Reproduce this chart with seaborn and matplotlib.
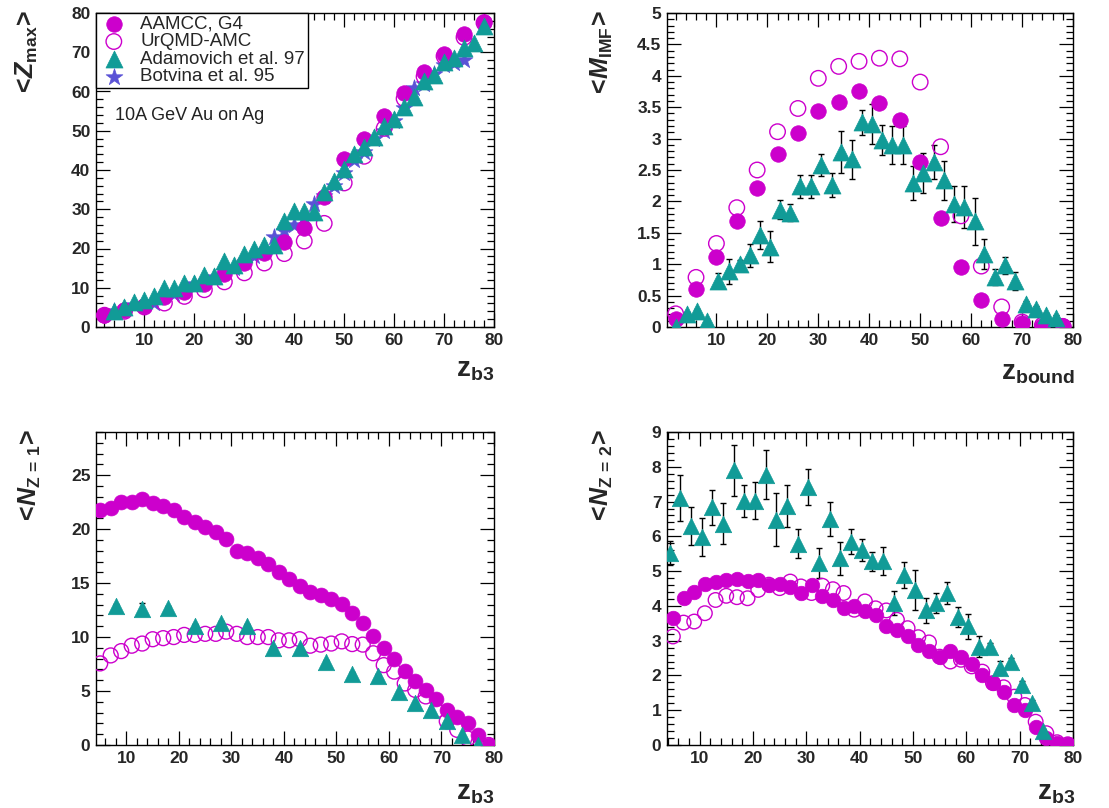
import matplotlib
matplotlib.use("Agg")
import matplotlib.pyplot as plt
import seaborn as sns
from matplotlib.ticker import MultipleLocator, FuncFormatter

# ---------------- data ----------------
# <Z_max> vs Z_b3
zmax_x_model = [2, 6, 10, 14, 18, 22, 26, 30, 34, 38, 42, 46, 50, 54, 58, 62, 66, 70, 74, 78]
zmax_aamcc = [3.1, 4.25, 5.3, 7.65, 8.9, 11.05, 13.6, 16.2, 18.9, 21.7, 25.1, 33.0, 42.7, 47.8,
              53.7, 59.7, 65.05, 69.5, 74.6, 77.8]
zmax_urqmd = [3.0, 4.0, 5.1, 6.1, 7.8, 9.5, 11.5, 13.8, 16.3, 18.7, 21.9, 26.4, 36.7, 43.5,
              50.6, 58.2, 63.8, 69.0, 73.8, 77.5]
zmax_x_adam = [4, 6, 8, 10, 12, 14, 16, 18, 20, 22, 24, 26, 28, 30, 32, 34, 36, 38, 40, 42,
               44, 46, 48, 50, 52, 54, 56, 58, 60, 62, 64, 66, 68, 70, 72, 74, 76, 78]
zmax_adam = [4.0, 5.0, 6.3, 6.8, 8.0, 10.0, 10.0, 11.2, 11.2, 13.3, 13.0, 16.8, 15.7, 18.6,
             19.8, 20.8, 21.0, 27.0, 29.6, 29.6, 29.3, 34.5, 37.2, 40.3, 44.0, 45.8, 48.3,
             51.3, 53.0, 56.0, 58.5, 62.8, 64.2, 67.5, 68.5, 71.0, 72.4, 76.8]
zmax_x_botv = [4, 8, 12, 16, 20, 24, 28, 32, 36, 38, 40, 42, 44, 46, 48, 50, 52, 54, 56, 58,
               60, 62, 64, 66, 68, 70, 72, 74]
zmax_botv = [4.0, 5.5, 6.0, 8.5, 11.0, 12.8, 15.0, 18.0, 23.0, 24.5, 26.0, 28.0, 31.3, 33.5,
             36.0, 39.3, 42.5, 44.5, 47.8, 50.0, 52.5, 55.8, 61.0, 62.0, 64.5, 66.8, 67.2, 68.0]

# <M_IMF> vs Z_bound
imf_x_model = [2, 6, 10, 14, 18, 22, 26, 30, 34, 38, 42, 46, 50, 54, 58, 62, 66, 70, 74, 78]
imf_aamcc = [0.12, 0.61, 1.12, 1.69, 2.22, 2.76, 3.09, 3.44, 3.59, 3.75, 3.57, 3.30, 2.62,
             1.73, 0.96, 0.43, 0.12, 0.06, 0.01, 0.01]
imf_urqmd = [0.21, 0.79, 1.33, 1.90, 2.50, 3.11, 3.48, 3.96, 4.15, 4.23, 4.28, 4.27, 3.90,
             2.87, 1.77, 0.97, 0.32, 0.08, 0.03, 0.01]
imf_x_adam = [2.0, 4.3, 6.2, 8.2, 10.4, 12.5, 14.6, 16.6, 18.5, 20.5, 22.5, 24.5, 26.5, 28.5,
              30.6, 32.7, 34.5, 36.7, 38.5, 40.5, 42.5, 44.5, 46.6, 48.6, 50.6, 52.7, 54.7,
              56.7, 58.7, 60.7, 62.6, 64.6, 66.6, 68.6, 70.7, 72.7, 74.7, 76.6]
imf_adam = [0.0, 0.21, 0.25, 0.10, 0.74, 0.89, 1.01, 1.14, 1.46, 1.28, 1.87, 1.82, 2.24, 2.24,
            2.58, 2.26, 2.79, 2.67, 3.26, 3.23, 2.98, 2.90, 2.90, 2.30, 2.45, 2.63, 2.34, 1.96,
            1.91, 1.68, 1.16, 0.80, 0.98, 0.73, 0.36, 0.29, 0.19, 0.15]
imf_adam_err = [0.03, 0.03, 0.03, 0.03, 0.12, 0.20, 0.05, 0.18, 0.22, 0.25, 0.15, 0.14, 0.18,
                0.18, 0.18, 0.19, 0.33, 0.31, 0.20, 0.32, 0.24, 0.30, 0.30, 0.27, 0.32, 0.27,
                0.31, 0.29, 0.33, 0.37, 0.24, 0.13, 0.13, 0.14, 0.05, 0.05, 0.04, 0.04]

# <N_Z=1> vs Z_b3
n1_x_model = [5, 7, 9, 11, 13, 15, 17, 19, 21, 23, 25, 27, 29, 31, 33, 35, 37, 39, 41, 43,
              45, 47, 49, 51, 53, 55, 57, 59, 61, 63, 65, 67, 69, 71, 73, 75, 77, 79]
n1_aamcc = [21.8, 22.0, 22.5, 22.5, 22.8, 22.4, 22.1, 21.8, 21.1, 20.7, 20.2, 19.7, 19.1,
            18.0, 17.8, 17.3, 16.8, 16.0, 15.4, 14.7, 14.2, 13.9, 13.5, 13.1, 12.2, 11.3,
            10.1, 8.95, 8.0, 6.9, 5.9, 5.1, 4.3, 3.2, 2.6, 2.0, 0.9, 0.0]
n1_urqmd = [7.56, 8.3, 8.7, 9.2, 9.4, 9.8, 9.9, 10.0, 10.2, 10.2, 10.3, 10.3, 10.5, 10.3,
            10.0, 10.0, 10.0, 9.7, 9.7, 9.8, 9.2, 9.3, 9.4, 9.6, 9.35, 9.3, 8.5, 7.4, 6.8,
            5.7, 5.1, 4.5, 3.2, 2.2, 1.4, 0.6, 0.15, 0.0]
n1_x_adam = [8, 13, 18, 23, 28, 33, 38, 43, 48, 53, 58, 62, 65, 68, 71, 74, 77]
n1_adam = [12.9, 12.6, 12.65, 11.0, 11.3, 11.0, 9.0, 9.0, 7.7, 6.6, 6.4, 4.9, 3.9, 3.2, 2.2,
           0.9, 0.0]
n1_adam_err = [0.2, 0.6, 0.2, 0.2, 0.2, 0.2, 0.2, 0.2, 0.2, 0.2, 0.2, 0.1, 0.1, 0.1, 0.1,
               0.1, 0.1]

# <N_Z=2> vs Z_b3
n2_x_model = [5, 7, 9, 11, 13, 15, 17, 19, 21, 23, 25, 27, 29, 31, 33, 35, 37, 39, 41, 43,
              45, 47, 49, 51, 53, 55, 57, 59, 61, 63, 65, 67, 69, 71, 73, 75, 77, 79]
n2_aamcc = [3.65, 4.22, 4.39, 4.64, 4.70, 4.75, 4.77, 4.73, 4.75, 4.61, 4.64, 4.54, 4.37,
            4.61, 4.27, 4.17, 3.93, 4.00, 3.84, 3.74, 3.41, 3.31, 3.14, 2.88, 2.69, 2.52,
            2.69, 2.54, 2.32, 2.02, 1.79, 1.51, 1.15, 1.01, 0.51, 0.19, 0.05, 0.03]
n2_urqmd = [3.12, 3.52, 3.55, 3.79, 4.17, 4.29, 4.25, 4.22, 4.46, 4.61, 4.51, 4.70, 4.56,
            4.37, 4.58, 4.48, 4.37, 3.89, 4.13, 3.93, 3.87, 3.60, 3.36, 3.10, 2.95, 2.54,
            2.40, 2.45, 2.26, 2.11, 1.78, 1.66, 1.39, 1.15, 0.67, 0.34, 0.08, 0.02]
n2_x_adam = [4.4, 6.4, 8.4, 10.4, 12.4, 14.4, 16.4, 18.4, 20.4, 22.4, 24.4, 26.4, 28.4, 30.4,
             32.4, 34.4, 36.4, 38.4, 40.4, 42.4, 44.4, 46.4, 48.4, 50.4, 52.4, 54.4, 56.4,
             58.4, 60.4, 62.4, 64.4, 66.4, 68.4, 70.4, 72.4, 74.4]
n2_adam = [5.52, 7.10, 6.29, 5.98, 6.84, 6.36, 7.90, 7.02, 7.02, 7.77, 6.48, 6.88, 5.79, 7.42,
           5.23, 6.50, 5.37, 5.85, 5.60, 5.28, 5.28, 4.08, 4.89, 4.46, 3.87, 4.08, 4.37, 3.69,
           3.41, 2.83, 2.83, 2.21, 2.40, 1.73, 1.20, 0.40]
n2_adam_err = [0.35, 0.65, 0.55, 0.54, 0.50, 0.59, 0.74, 0.47, 0.53, 0.71, 0.76, 0.60, 0.42,
               0.52, 0.43, 0.50, 0.47, 0.36, 0.32, 0.27, 0.40, 0.35, 0.38, 0.58, 0.35, 0.29,
               0.32, 0.29, 0.36, 0.31, 0.10, 0.20, 0.10, 0.10, 0.08, 0.05]

labels = ["AAMCC, G4", "UrQMD-AMC", "Adamovich et al. 97", "Botvina et al. 95"]

MAG = "#cc00cc"
TEAL = "#119b97"
STAR = "#5a52d6"

# ---------------- style ----------------
sns.set_theme(style="ticks")
plt.rcParams["font.family"] = ["Liberation Sans", "DejaVu Sans"]
plt.rcParams.update({
    "mathtext.fontset": "custom",
    "mathtext.rm": "Liberation Sans",
    "mathtext.bf": "Liberation Sans:bold",
    "mathtext.it": "Liberation Sans:italic",
    "mathtext.sf": "Liberation Sans",
})
try:
    plt.rcParams["mathtext.bfit"] = "Liberation Sans:italic:bold"
except KeyError:
    pass

fig = plt.figure(figsize=(11.09, 8.08), dpi=100)
fig.patch.set_facecolor("white")

W, H = 1109.0, 808.0


def axes_px(left, top, right, bottom):
    return fig.add_axes([left / W, 1 - bottom / H, (right - left) / W, (bottom - top) / H])


ax1 = axes_px(96, 13, 494, 327)
ax2 = axes_px(667, 13, 1073, 327)
ax3 = axes_px(96, 432, 494, 745)
ax4 = axes_px(667, 432, 1073, 745)


def fmt_g(v, _pos):
    return "%g" % v


def style_axes(ax, xlim, ylim, ymaj, ymin):
    ax.set_xlim(*xlim)
    ax.set_ylim(*ylim)
    ax.xaxis.set_major_locator(MultipleLocator(10))
    ax.xaxis.set_minor_locator(MultipleLocator(2))
    ax.yaxis.set_major_locator(MultipleLocator(ymaj))
    ax.yaxis.set_minor_locator(MultipleLocator(ymin))
    ax.yaxis.set_major_formatter(FuncFormatter(fmt_g))
    ax.xaxis.set_major_formatter(FuncFormatter(fmt_g))
    ax.tick_params(which="both", direction="in", top=True, right=True,
                   color="black", width=0.9)
    ax.tick_params(which="major", length=10, labelsize=12.5, pad=4)
    ax.tick_params(which="minor", length=5)
    for lab in ax.get_xticklabels() + ax.get_yticklabels():
        lab.set_fontweight("bold")
    for sp in ax.spines.values():
        sp.set_color("black")
        sp.set_linewidth(1.0)
    ax.set_facecolor("white")
    ax.set_xlabel("")
    ax.set_ylabel("")


def draw_models(ax, x, filled, hollow, s):
    sns.scatterplot(x=x, y=hollow, ax=ax, marker="o", s=s, color="none",
                    edgecolor=MAG, linewidth=1.0, label=labels[1], zorder=3)
    sns.scatterplot(x=x, y=filled, ax=ax, marker="o", s=s, color=MAG,
                    edgecolor=MAG, linewidth=0.5, label=labels[0], zorder=4)


def draw_data(ax, x, y, err=None, s=130):
    if err is not None:
        ax.errorbar(x, y, yerr=err, fmt="none", ecolor="black", elinewidth=1.0,
                    capsize=2.5, capthick=1.0, zorder=2)
    sns.scatterplot(x=x, y=y, ax=ax, marker="^", s=s, color=TEAL,
                    edgecolor=TEAL, linewidth=0.5, label=labels[2], zorder=5)


# ---- panel 1: <Z_max>
sns.scatterplot(x=zmax_x_botv, y=zmax_botv, ax=ax1, marker="*", s=160, color=STAR,
                edgecolor=STAR, linewidth=0.5, label=labels[3], zorder=3)
draw_data(ax1, zmax_x_adam, zmax_adam, s=150)
draw_models(ax1, zmax_x_model, zmax_aamcc, zmax_urqmd, s=125)
style_axes(ax1, (0.3, 80), (0, 80), 10, 2)
h, l = ax1.get_legend_handles_labels()
order = [l.index(name) for name in labels]
leg = ax1.legend([h[i] for i in order], [l[i] for i in order], loc="upper left",
                 bbox_to_anchor=(0.0, 1.0), borderaxespad=0.0, frameon=True,
                 fancybox=False, framealpha=1, edgecolor="black", fontsize=13.5,
                 labelspacing=0.02, handletextpad=0.6, borderpad=0.15,
                 handlelength=1.6, markerscale=1.0)
leg.get_frame().set_linewidth(1.0)
ax1.text(0.047, 0.675, "10A GeV Au on Ag", transform=ax1.transAxes, fontsize=13,
         ha="left", va="center", color="#222222")

# ---- panel 2: <M_IMF>
draw_data(ax2, imf_x_adam, imf_adam, imf_adam_err, s=150)
draw_models(ax2, imf_x_model, imf_aamcc, imf_urqmd, s=125)
style_axes(ax2, (0.3, 80), (0, 5), 0.5, 0.1)
ax2.get_legend().remove()

# ---- panel 3: <N_Z=1>
draw_models(ax3, n1_x_model, n1_aamcc, n1_urqmd, s=115)
draw_data(ax3, n1_x_adam, n1_adam, n1_adam_err, s=140)
style_axes(ax3, (4.2, 80), (0, 29), 5, 1)
ax3.get_legend().remove()

# ---- panel 4: <N_Z=2>
draw_models(ax4, n2_x_model, n2_aamcc, n2_urqmd, s=110)
draw_data(ax4, n2_x_adam, n2_adam, n2_adam_err, s=140)
style_axes(ax4, (3.9, 80), (0, 9), 1, 0.2)
ax4.get_legend().remove()

# ---- axis titles (ROOT-like placement)
ylab_kw = dict(rotation=90, ha="center", va="top", fontsize=18)
LT = r"\mathbf{<}\!"
GT = r"\!\mathbf{>}"
fig.text(27 / W, 1 - 10 / H, r"$" + LT + r"\mathbfit{Z}_{\mathbf{max}}" + GT + "$", **ylab_kw)
fig.text(602 / W, 1 - 10 / H, r"$" + LT + r"\mathbfit{M}_{\mathbf{IMF}}" + GT + "$", **ylab_kw)
fig.text(30 / W, 1 - 429 / H, r"$" + LT + r"\mathbfit{N}_{\mathbf{Z\,=\,1}}" + GT + "$", **ylab_kw)
fig.text(602 / W, 1 - 429 / H, r"$" + LT + r"\mathbfit{N}_{\mathbf{Z\,=\,2}}" + GT + "$", **ylab_kw)

xlab_kw = dict(ha="right", va="bottom", fontsize=20)
fig.text(494 / W, 1 - 383 / H, r"$\mathbf{z}_{\mathbf{b3}}$", **xlab_kw)
fig.text(1075 / W, 1 - 386 / H, r"$\mathbf{z}_{\mathbf{bound}}$", **xlab_kw)
fig.text(494 / W, 1 - 806 / H, r"$\mathbf{z}_{\mathbf{b3}}$", **xlab_kw)
fig.text(1075 / W, 1 - 806 / H, r"$\mathbf{z}_{\mathbf{b3}}$", **xlab_kw)

fig.savefig("out.png", dpi=100, facecolor="white")
